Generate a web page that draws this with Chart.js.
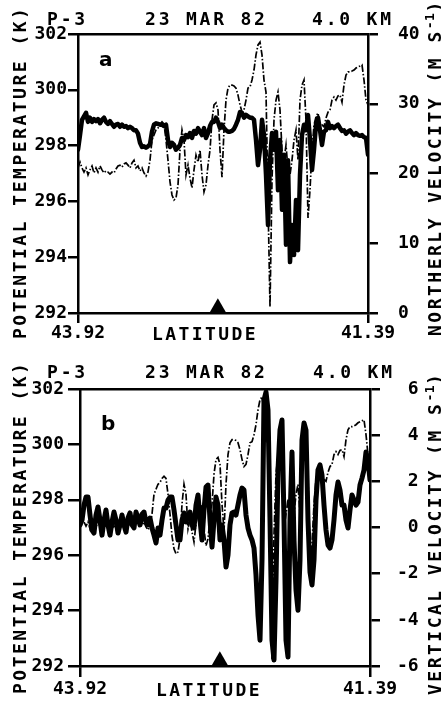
<!DOCTYPE html>
<html>
<head>
<meta charset="utf-8">
<script src="https://cdn.jsdelivr.net/npm/chart.js@4.4.1/dist/chart.umd.min.js"></script>
<style>
  html, body { margin: 0; padding: 0; background: #fff; }
  #page { position: relative; width: 441px; height: 701px; overflow: hidden; background: #fff; }
  canvas { position: absolute; left: 0; }
  .lbl {
    position: absolute; color: #000; white-space: nowrap;
    font-family: "DejaVu Sans Mono", monospace; font-weight: bold;
    font-size: 18px; line-height: 18px; letter-spacing: 2.8px;
  }
  .rot { transform-origin: 0 0; transform: rotate(-90deg); letter-spacing: 2.5px; }
  .rot sup { font-size: 13px; line-height: 0; vertical-align: 7px; letter-spacing: 0.5px; }
  .tag { font-family: "DejaVu Sans", sans-serif; font-size: 20px; line-height: 20px; letter-spacing: 0; }
</style>
</head>
<body>
<div id="page">
  <canvas id="panelA" width="441" height="350" style="top:0"></canvas>
  <canvas id="panelB" width="441" height="351" style="top:350px"></canvas>

  <div class="lbl" style="left:47px;top:10px">P-3</div>
  <div class="lbl" style="left:145px;top:10px">23 MAR 82</div>
  <div class="lbl" style="left:312px;top:10px">4.0 KM</div>
  <div class="lbl tag" style="left:99px;top:49px">a</div>
  <div class="lbl" style="left:152px;top:325px;letter-spacing:2.4px">LATITUDE</div>
  <div class="lbl rot" style="left:11px;top:339px">POTENTIAL TEMPERATURE (K)</div>
  <div class="lbl rot" style="left:426px;top:336px">NORTHERLY VELOCITY (M S<sup>-1</sup>)</div>

  <div class="lbl" style="left:47px;top:363px">P-3</div>
  <div class="lbl" style="left:145px;top:363px">23 MAR 82</div>
  <div class="lbl" style="left:313px;top:363px">4.0 KM</div>
  <div class="lbl tag" style="left:101px;top:413px">b</div>
  <div class="lbl" style="left:156px;top:681px;letter-spacing:2.4px">LATITUDE</div>
  <div class="lbl rot" style="left:11px;top:694px">POTENTIAL TEMPERATURE (K)</div>
  <div class="lbl rot" style="left:426px;top:695px">VERTICAL VELOCITY (M S<sup>-1</sup>)</div>
</div>

<script>
// flight leg, north end on the left
const LAT_NORTH = 43.92;
const LAT_SOUTH = 41.39;
const latTicks = [LAT_NORTH, LAT_SOUTH];

// potential temperature (K), same trace in both panels
const tempK = [
  297.20, 297.41, 297.20, 297.05, 297.20, 296.95, 297.13, 297.27, 297.02, 297.20,
  297.05, 297.27, 297.13, 297.02, 297.09, 297.05, 296.98, 297.05, 297.02, 297.16,
  297.27, 297.30, 297.23, 297.34, 297.38, 297.30, 297.20, 297.38, 297.48, 297.20,
  297.27, 297.09, 297.20, 297.02, 296.91, 297.05, 297.48, 298.20, 298.38, 298.56,
  298.63, 298.77, 298.85, 298.77, 298.20, 297.48, 296.70, 296.23, 296.05, 296.12,
  296.59, 297.84, 298.56, 298.20, 296.95, 297.30, 296.84, 296.48, 297.13, 297.66,
  297.41, 297.84, 296.95, 296.34, 296.59, 297.30, 297.84, 298.92, 299.46, 299.53,
  299.28, 297.84, 296.87, 298.56, 299.63, 300.06, 300.17, 300.17, 300.14, 300.06,
  299.81, 299.46, 299.20, 299.28, 299.63, 300.06, 300.10, 300.35, 300.71, 301.25,
  301.61, 301.71, 301.25, 300.35, 299.92, 296.05, 292.22, 296.77, 298.92, 299.63,
  299.92, 299.28, 297.84, 297.48, 298.02, 297.13, 296.95, 297.48, 298.20, 298.56,
  297.48, 299.63, 300.17, 300.35, 298.92, 295.41, 296.41, 297.84, 298.74, 299.03,
  299.17, 298.74, 298.74, 298.67, 298.99, 299.20, 299.28, 299.63, 299.74, 299.63,
  299.78, 299.81, 299.56, 300.17, 300.53, 300.64, 300.64, 300.67, 300.71, 300.78,
  300.82, 300.85, 300.89, 300.35, 299.63, 299.46
];

// northerly velocity (m/s), panel a
const northV = [
  23.4, 25.5, 27.7, 28.2, 28.7, 27.4, 28.0, 27.4, 27.8, 27.5,
  27.8, 27.2, 27.7, 28.0, 27.4, 27.1, 27.5, 27.1, 26.7, 27.0,
  27.1, 26.7, 27.0, 26.7, 26.8, 26.5, 26.7, 26.5, 26.2, 26.2,
  25.7, 24.4, 23.8, 23.9, 23.7, 23.9, 24.2, 26.0, 27.0, 27.2,
  27.1, 27.0, 27.0, 26.8, 27.0, 24.8, 23.8, 24.4, 24.1, 23.4,
  23.7, 24.1, 25.1, 24.8, 25.5, 25.2, 25.8, 25.1, 26.1, 25.7,
  26.5, 26.0, 25.5, 26.5, 25.1, 25.8, 26.8, 27.4, 27.4, 28.0,
  27.4, 26.5, 27.0, 26.5, 26.2, 26.0, 26.0, 26.1, 26.4, 27.0,
  27.7, 28.8, 28.7, 28.0, 28.4, 28.2, 28.0, 28.0, 27.7, 24.8,
  21.2, 23.4, 27.7, 25.5, 19.8, 12.6, 21.9, 25.8, 23.4, 26.0,
  17.6, 24.8, 14.8, 22.7, 9.8, 21.9, 7.3, 12.6, 8.3, 16.2,
  9.0, 19.8, 25.5, 27.0, 26.2, 28.4, 24.8, 20.5, 23.4, 27.0,
  28.0, 26.2, 24.1, 26.0, 26.2, 27.4, 26.5, 26.8, 26.5, 26.8,
  27.0, 26.5, 26.1, 26.2, 25.7, 26.0, 26.2, 25.8, 25.5, 25.8,
  25.5, 25.4, 25.5, 25.2, 25.1, 22.7
];

// vertical velocity (m/s), panel b
const vertW = [
  0.11, 0.32, 0.97, 1.32, 1.32, 0.54, -0.11, -0.24, 0.54, 0.89,
  0.32, -0.33, 0.32, 0.76, 0.11, -0.33, 0.24, 0.67, 0.32, -0.24,
  0.11, 0.54, 0.11, -0.20, 0.41, 0.63, 0.11, -0.02, 0.67, 0.41,
  0.11, 0.58, 0.67, 0.24, 0.11, 0.41, -0.02, -0.33, -0.67, -0.02,
  -0.33, 0.32, 0.84, 0.84, 1.19, 1.32, 1.32, 0.76, 0.11, -0.54,
  -0.54, 0.32, 0.63, 0.24, 0.54, 0.67, 0.11, -0.02, 0.97, 1.41,
  0.32, -0.54, 0.76, 1.75, 1.84, 0.32, -0.85, 0.32, 1.32, 0.97,
  -0.54, 0.11, -0.54, -1.71, -1.19, 0.11, 0.63, 0.67, 0.54, 0.97,
  1.41, 1.71, 1.62, 0.54, -0.02, -0.33, -0.54, -0.89, -2.06, -3.79,
  -4.88, -1.41, 5.52, 5.87, 5.09, 0.32, -4.88, -5.74, -2.28, 2.49,
  4.22, 4.66, 0.32, -4.88, -5.61, 0.32, 3.27, -0.54, -2.71, -3.58,
  -1.41, 3.79, 4.53, 4.22, 0.32, -1.93, -2.49, -1.41, 1.19, 2.49,
  2.71, 2.27, 0.97, -0.11, -0.76, -0.89, -0.54, 0.32, 1.41, 1.97,
  1.62, 0.97, 0.97, 0.32, -0.02, 0.76, 1.41, 1.19, 0.97, 1.10,
  1.84, 2.14, 2.49, 3.27, 2.92, 2.06
];

// triangle marker on the bottom axis
const markerLat = [42.70];
const markerTheta = [292.17];

// samples are evenly spaced along the leg
const lats = tempK.map((_, i) => LAT_NORTH - (LAT_NORTH - LAT_SOUTH) * i / (tempK.length - 1));
const pts = arr => arr.map((v, i) => ({ x: lats[i], y: v }));

const INK = "#000";
const FONT = { family: "DejaVu Sans Mono", weight: "bold", size: 18 };
const edge = { display: true, color: INK, width: 2.5 };

function ticksOut(len) {
  return { display: true, drawOnChartArea: false, drawTicks: true, tickLength: len, color: INK, lineWidth: 2.5 };
}

function panel(id, o) {
  return new Chart(document.getElementById(id), {
    data: {
      datasets: [
        {
          type: "scatter", yAxisID: "y", order: 0, clip: false,
          data: markerLat.map((v, i) => ({ x: v, y: markerTheta[i] })),
          pointStyle: "triangle", pointRadius: 10, backgroundColor: INK, borderWidth: 0
        },
        {
          type: "line", yAxisID: "y", order: 1, data: pts(tempK),
          borderColor: INK, borderWidth: 1.7, borderDash: [7, 2, 1.5, 2],
          pointRadius: 0, tension: 0
        },
        {
          type: "line", yAxisID: "y2", order: 2, data: pts(o.series),
          borderColor: INK, borderWidth: o.thick, borderJoinStyle: "round", borderCapStyle: "round",
          pointRadius: 0, tension: 0
        }
      ]
    },
    options: {
      responsive: false, animation: false, devicePixelRatio: 1, events: [],
      layout: { padding: 0 },
      plugins: { legend: { display: false }, tooltip: { enabled: false } },
      scales: {
        x: {
          type: "linear", position: "bottom", min: LAT_SOUTH, max: LAT_NORTH, reverse: true, bounds: "data",
          afterBuildTicks: s => { s.ticks = latTicks.map(v => ({ value: v })); },
          afterFit: s => { s.height = o.bottom; },
          ticks: { autoSkip: false, maxRotation: 0, font: FONT, color: INK, padding: o.xPad, callback: v => v.toFixed(2) },
          grid: ticksOut(o.xTick), border: edge
        },
        xTop: {
          type: "linear", position: "top", min: LAT_SOUTH, max: LAT_NORTH, reverse: true,
          afterFit: s => { s.height = o.top; },
          ticks: { display: false }, grid: { display: false }, border: edge
        },
        y: {
          position: "left", min: 292, max: 302,
          afterFit: s => { s.width = o.left; },
          ticks: { stepSize: 2, font: FONT, color: INK, padding: o.yPad },
          grid: ticksOut(o.yTick), border: edge
        },
        y2: {
          position: "right", min: o.rMin, max: o.rMax,
          afterFit: s => { s.width = o.right; },
          ticks: { stepSize: o.rStep, font: FONT, color: INK, padding: o.rPad, callback: o.rLabel },
          grid: ticksOut(10), border: edge
        }
      }
    }
  });
}

panel("panelA", {
  series: northV, thick: 4.5,
  left: 78, right: 73, top: 34, bottom: 37,
  xTick: 10, xPad: 0, yTick: 10, yPad: 1,
  rMin: 0, rMax: 40, rStep: 10, rPad: 20, rLabel: v => String(v)
});

panel("panelB", {
  series: vertW, thick: 5,
  left: 80, right: 71, top: 39, bottom: 35,
  xTick: 11, xPad: 2, yTick: 12, yPad: 4,
  rMin: -6, rMax: 6, rStep: 2, rPad: 17, rLabel: v => String(v).padStart(2, " ")
});
</script>
</body>
</html>
